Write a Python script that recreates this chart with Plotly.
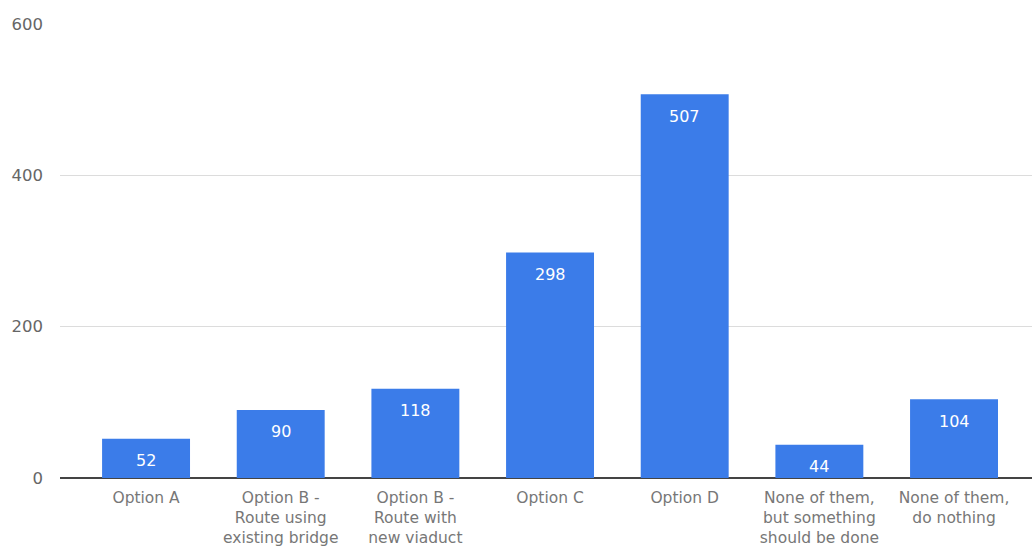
import plotly.graph_objects as go

categories = [
    "Option A",
    "Option B -<br>Route using<br>existing bridge",
    "Option B -<br>Route with<br>new viaduct",
    "Option C",
    "Option D",
    "None of them,<br>but something<br>should be done",
    "None of them,<br>do nothing",
]
values = [52, 90, 118, 298, 507, 44, 104]
y_ticks = [0, 200, 400, 600]

xpos = list(range(len(categories)))
BLUE = "#3b7ce9"
FONT = "DejaVu Sans"

fig = go.Figure()
fig.add_trace(go.Bar(
    x=xpos, y=values, width=0.653,
    marker=dict(color=BLUE, line=dict(width=0)),
    hoverinfo="skip",
))

for xi, v in zip(xpos, values):
    fig.add_annotation(
        x=xi, y=v, text=str(v), showarrow=False,
        yshift=-22, yanchor="middle", xanchor="center",
        font=dict(family=FONT, size=16, color="white"),
    )

fig.update_layout(
    width=1032, height=557,
    margin=dict(l=60, r=0, t=24, b=79),
    paper_bgcolor="white", plot_bgcolor="white",
    showlegend=False,
    font=dict(family=FONT),
    xaxis=dict(
        range=[-0.639, 6.579],
        tickmode="array", tickvals=xpos, ticktext=categories,
        tickfont=dict(family=FONT, size=15.5, color="#777777"),
        showgrid=False, zeroline=False, showline=False,
        ticks="", ticklabelstandoff=8,
    ),
    yaxis=dict(
        range=[0, 600],
        tickmode="array", tickvals=y_ticks,
        tickfont=dict(family=FONT, size=16.5, color="#666666"),
        showgrid=True, gridcolor="#dcdcdc", gridwidth=1,
        zeroline=True, zerolinecolor="#444444", zerolinewidth=1.5,
        showline=False, ticks="", ticklabelstandoff=16,
    ),
)

fig.write_html("out.html")
